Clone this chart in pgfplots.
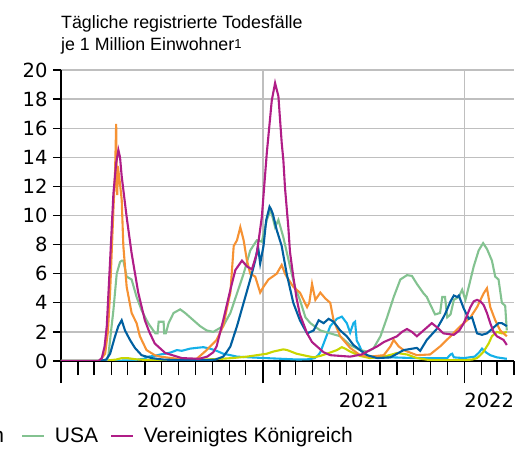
\documentclass[border=0pt]{standalone}
\usepackage{pgfplots}
\pgfplotsset{compat=1.18}
\usepackage{fontspec}
\setmainfont{Liberation Sans}
\newfontfamily\tickfont{DejaVu Sans}
\definecolor{cDE}{RGB}{0,95,160}
\definecolor{cFR}{RGB}{246,146,51}
\definecolor{cIN}{RGB}{20,176,232}
\definecolor{cJP}{RGB}{200,214,0}
\definecolor{cUS}{RGB}{131,194,144}
\definecolor{cUK}{RGB}{176,29,135}
\begin{document}
\begin{tikzpicture}[font=\fontsize{17.8bp}{21bp}\selectfont]
\begin{axis}[
  at={(61bp,89bp)}, anchor=south west,
  scale only axis, width=453bp, height=291bp,
  xmin=0, xmax=821, ymin=0, ymax=20,
  axis lines*=left,
  axis line style={black, line width=1.3bp},
  tick align=outside,
  xtick={0,366,731},
  xticklabels={,,},
  minor xtick={31,60,91,121,152,182,213,244,274,305,335,397,425,456,486,517,547,578,609,639,670,700,762,790,821},
  xtick style={black, line width=1.3bp, /pgfplots/major tick length=22bp, /pgfplots/minor tick length=14bp},
  ytick={0,2,...,20},
  ytick style={black, line width=1.3bp, /pgfplots/major tick length=8bp},
  xmajorgrids, ymajorgrids,
  major grid style={color=black!25, line width=1.3bp},
  extra x ticks={183,548.5,776},
  extra x tick labels={2020,2021,2022},
  extra x tick style={grid=none, tick style={draw=none}},
  ticklabel style={font=\tickfont\fontsize{19.5bp}{23bp}\selectfont},
  xticklabel style={inner sep=0pt, anchor=north, yshift=-28bp},
  yticklabel style={inner sep=0pt, anchor=east, xshift=-9bp},
  /pgf/number format/assume math mode=true,
  no markers,
  legend columns=-1,
  legend style={draw=none, fill=none, at={(0.6446,-0.2577)}, anchor=east, inner sep=0pt,
    font=\fontsize{21bp}{25bp}\selectfont,
    nodes={inner sep=0pt},
    /tikz/every odd column/.append style={column sep=9bp},
    /tikz/every even column/.append style={column sep=17bp}},
  legend image code/.code={\draw[#1, line width=2.8bp] (0bp,0bp) -- (22bp,0bp);},
]
% India
\addplot[cIN, line width=2.1bp, forget plot] coordinates {
(0,0) (80,0) (100,0.02) (130,0.05) (150,0.15) (158,0.3) (170,0.35) (180,0.45) (189,0.5) (200,0.6) (210,0.75) (219,0.7) (234,0.85) (245,0.9) (258,0.95) (270,0.85) (282,0.7) (294,0.5) (307,0.4) (319,0.3) (343,0.25) (370,0.2) (400,0.15) (430,0.1) (450,0.12) (460,0.2) (466,0.4) (470,0.6) (479,1.5) (488,2.4) (500,2.9) (509,3.05) (518,2.6) (524,1.95) (530,2.6) (533,2.7) (536,1.4) (539,1.2) (545,0.7) (555,0.35) (573,0.25) (600,0.25) (640,0.2) (680,0.2) (700,0.2) (706,0.45) (709,0.5) (712,0.25) (730,0.2) (750,0.3) (758,0.6) (763,0.85) (770,0.6) (778,0.4) (790,0.25) (808,0.15)};
% Japan
\addplot[cJP, line width=2.1bp, forget plot] coordinates {
(0,0) (60,0) (80,0.02) (100,0.1) (110,0.2) (120,0.2) (135,0.12) (150,0.08) (170,0.05) (200,0.05) (230,0.08) (260,0.1) (290,0.15) (310,0.2) (337,0.3) (355,0.4) (373,0.5) (385,0.65) (397,0.75) (403,0.8) (410,0.75) (427,0.5) (445,0.35) (458,0.25) (470,0.35) (482,0.5) (500,0.75) (509,0.95) (515,0.85) (524,0.65) (542,0.35) (560,0.2) (585,0.3) (600,0.45) (609,0.55) (618,0.5) (627,0.45) (645,0.2) (665,0.08) (680,0.05) (730,0.05) (745,0.1) (754,0.2) (760,0.4) (766,0.65) (775,1.2) (781,1.7) (790,2.0) (799,1.9) (808,2.0)};
% USA
\addplot[cUS, line width=2.1bp, forget plot] coordinates {
(0,0) (80,0) (83,0.05) (86,0.4) (90,1.8) (95,3.5) (101,6.0) (107,6.8) (110,6.9) (113,6.9) (119,5.8) (128,5.6) (137,4.4) (146,3.5) (158,2.6) (171,1.9) (175,1.9) (177,2.7) (186,2.7) (187,1.9) (190,1.9) (195,2.6) (204,3.3) (216,3.55) (225,3.3) (234,3.0) (252,2.4) (264,2.1) (276,2.0) (294,2.4) (307,3.3) (319,4.65) (331,6.0) (343,7.6) (355,8.3) (364,8.2) (373,9.7) (380,10.4) (388,9.2) (394,9.7) (403,8.5) (415,6.5) (424,5.1) (433,4.2) (443,3.0) (452,2.6) (470,2.1) (488,1.9) (506,1.7) (524,1.1) (542,0.75) (555,0.65) (566,0.85) (579,1.7) (591,3.0) (603,4.4) (615,5.6) (627,5.9) (636,5.85) (645,5.3) (657,4.65) (663,4.4) (669,3.9) (678,3.2) (687,3.3) (691,4.4) (696,4.4) (700,3.0) (706,3.2) (712,4.2) (721,4.4) (727,4.9) (733,4.2) (739,5.1) (748,6.5) (757,7.6) (765,8.1) (772,7.7) (781,6.9) (787,5.8) (793,5.6) (799,4.0) (805,3.8) (808,2.1)};
% France
\addplot[cFR, line width=2.1bp, forget plot] coordinates {
(0,0) (70,0) (80,0.5) (85,2.0) (89,4.7) (95,10.4) (98,13.0) (100,16.3) (101,12.0) (102,11.4) (103,13.4) (106,12.5) (110,11.1) (113,7.9) (119,5.1) (128,3.3) (137,2.6) (143,1.7) (155,0.75) (170,0.4) (180,0.3) (222,0.1) (246,0.15) (264,0.75) (282,1.45) (294,2.4) (300,3.5) (307,4.7) (313,7.9) (319,8.3) (325,9.2) (331,8.3) (337,6.9) (343,6.0) (352,5.8) (361,4.7) (367,5.1) (376,5.6) (391,6.0) (400,6.6) (406,6.0) (409,5.8) (421,5.1) (433,4.7) (446,3.7) (450,4.0) (455,5.3) (461,4.2) (470,4.7) (479,4.3) (488,4.0) (494,2.8) (506,1.7) (524,0.9) (542,0.4) (560,0.3) (585,0.4) (597,1.0) (603,1.45) (612,1.0) (621,0.75) (645,0.4) (669,0.45) (687,1.0) (706,1.7) (724,2.4) (742,3.0) (754,3.7) (766,4.65) (772,5.0) (778,3.7) (787,2.8) (796,2.1) (805,1.8) (808,1.7)};
% Germany
\addplot[cDE, line width=2.1bp, forget plot] coordinates {
(0,0) (70,0) (82,0.1) (89,0.5) (98,1.7) (104,2.4) (110,2.8) (116,2.1) (125,1.45) (134,0.9) (146,0.4) (164,0.2) (185,0.1) (220,0.05) (260,0.05) (280,0.1) (294,0.3) (300,0.6) (307,1.0) (319,2.4) (331,4.0) (343,5.6) (352,6.9) (357,7.9) (361,6.7) (367,7.9) (372,9.7) (378,10.6) (381,10.4) (384,10.1) (391,9.0) (400,7.9) (409,6.0) (421,4.0) (433,2.8) (440,2.3) (446,1.9) (452,2.0) (458,2.1) (467,2.8) (476,2.6) (485,2.9) (494,2.7) (506,2.1) (518,1.7) (530,1.1) (542,0.75) (555,0.4) (573,0.2) (597,0.25) (621,0.75) (645,0.9) (651,0.7) (663,1.45) (681,2.2) (693,3.0) (697,3.3) (706,4.1) (712,4.5) (718,4.4) (721,4.5) (730,3.6) (739,2.9) (745,3.0) (754,1.9) (763,1.8) (772,1.9) (781,2.2) (793,2.6) (799,2.6) (808,2.4)};
% UK
\addplot[cUK, line width=2.1bp, forget plot] coordinates {
(0,0) (68,0) (74,0.2) (79,1.0) (83,2.4) (89,6.9) (95,11.5) (100,13.6) (104,14.5) (107,14.0) (110,12.7) (119,9.9) (128,7.4) (140,4.7) (152,2.8) (160,2.0) (170,1.2) (189,0.55) (219,0.2) (250,0.15) (265,0.3) (276,0.6) (282,1.0) (294,2.8) (307,4.9) (316,6.25) (328,6.9) (337,6.5) (346,6.3) (355,7.4) (364,9.9) (373,14.3) (382,17.9) (388,19.1) (394,18.2) (400,15.0) (403,13.8) (406,11.9) (412,9.2) (415,7.5) (421,5.8) (427,4.3) (433,3.2) (440,2.5) (446,1.9) (455,1.3) (464,1.0) (476,0.6) (488,0.4) (524,0.3) (545,0.45) (560,0.75) (573,1.0) (585,1.3) (597,1.5) (609,1.7) (618,2.0) (627,2.2) (636,2.0) (645,1.7) (660,2.2) (672,2.6) (682,2.3) (693,1.9) (712,1.8) (722,2.1) (730,2.6) (742,3.7) (748,4.1) (754,4.2) (760,4.1) (766,3.85) (772,3.3) (778,2.6) (784,2.0) (790,1.7) (802,1.45) (808,1.1)};
\addlegendimage{cDE}\addlegendentry{Deutschland}
\addlegendimage{cFR}\addlegendentry{Frankreich}
\addlegendimage{cIN}\addlegendentry{Indien}
\addlegendimage{cJP}\addlegendentry{Japan}
\addlegendimage{cUS}\addlegendentry{USA\kern-5bp}
\addlegendimage{cUK}\addlegendentry{Vereinigtes Königreich}
\end{axis}
\node[anchor=base west, inner sep=0pt] at (61bp,421.7bp) {Tägliche registrierte Todesfälle};
\node[anchor=base west, inner sep=0pt] at (61bp,399.3bp) {je 1 Million Einwohner\raisebox{2.5bp}{\fontsize{13bp}{13bp}\selectfont 1}};
\pgfresetboundingbox
\path[use as bounding box] (0,0) rectangle (515bp,450bp);
\end{tikzpicture}
\end{document}
